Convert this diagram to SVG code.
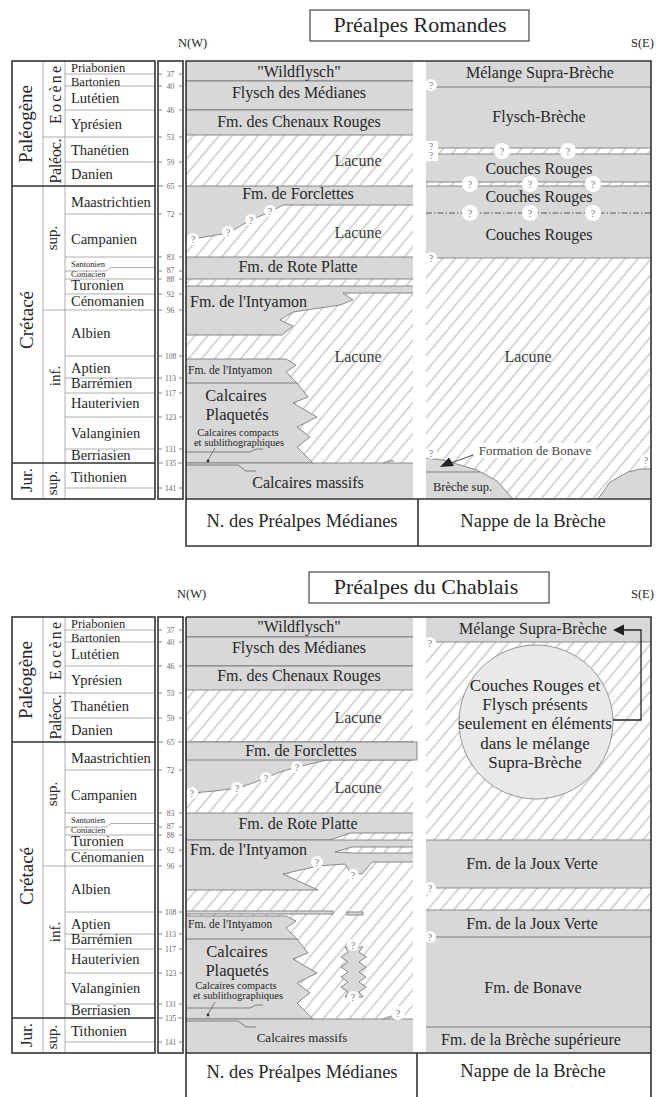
<svg xmlns="http://www.w3.org/2000/svg" width="658" height="1097" viewBox="0 0 658 1097">
<defs>
<pattern id="hatch" patternUnits="userSpaceOnUse" width="10" height="10" patternTransform="rotate(40)">
<rect width="10" height="10" fill="#fff"/>
<line x1="5" y1="-1" x2="5" y2="11" stroke="#8c8c8c" stroke-width="0.7"/>
</pattern>
<clipPath id="cm"><rect x="186" y="61" width="227" height="438"/></clipPath>
<clipPath id="cb"><rect x="426" y="61" width="225" height="438"/></clipPath>
<clipPath id="cm2"><rect x="186" y="61" width="227" height="436"/></clipPath>
<clipPath id="cb2"><rect x="426" y="61" width="225" height="436"/></clipPath>
<style>
.t{font-family:"Liberation Serif","Times New Roman",serif;fill:#262626}
.lab{font-size:16px;text-anchor:middle}
.lbl{font-size:18.5px;text-anchor:middle}
.st{font-size:14.5px}
.st2{font-size:12.5px}
.ss{font-size:8.5px}
.era{font-size:19px;text-anchor:middle}
.sub{font-size:16px;text-anchor:middle}
.age{font-size:7.5px;fill:#666;text-anchor:middle}
.lac{font-size:16px;text-anchor:middle;fill:#3c3c3c}
.title{font-size:22px;text-anchor:middle}
.dir{font-size:12.5px}
.sm{font-size:11.5px}
.cp{font-size:16.5px;text-anchor:middle}
.cc{font-size:10.5px;text-anchor:middle}
.g{fill:#d8d8d8;stroke:#707070;stroke-width:0.8}
.h{fill:url(#hatch)}
.frame{fill:none;stroke:#333;stroke-width:1.6}
.thin{fill:none;stroke:#9a9a9a;stroke-width:0.8}
.ln{fill:none;stroke:#666;stroke-width:0.8}
.qc{fill:#fff}
.q{font-size:10px;fill:#777;text-anchor:middle}
.box{fill:#fff;stroke:#444;stroke-width:1.2}
</style>
</defs>
<rect width="658" height="1097" fill="#fff"/>

<!-- ===================== PREALPES ROMANDES ===================== -->
<g id="romandes">
<g id="title-romandes"><rect class="box" x="310" y="10" width="219" height="31"/><text class="t title" x="420" y="32">Préalpes Romandes</text></g>
<text class="t dir" x="178" y="47">N(W)</text>
<text class="t dir" x="631" y="47">S(E)</text>

<g id="stages-romandes">
<path class="thin" d="M43 61V499M65 61V499M43 137H155M43 310H155M65 74H155M65 86H155M65 110H155M65 162H155M65 214H155M65 257H155M65 279H155M65 294H155M65 356H155M65 378H155M65 393H155M65 417H155M65 449H155M65 488H155M65 271H106L111 267.5H155"/>
<path class="frame" d="M12 186H155M12 463H155"/>
<rect class="frame" x="12" y="61" width="143" height="438"/>
<text class="t era" transform="translate(32,124) rotate(-90)">Paléogène</text>
<text class="t era" transform="translate(33,320) rotate(-90)">Crétacé</text>
<text class="t era" transform="translate(32,480) rotate(-90)" style="font-size:17px">Jur.</text>
<text class="t sub" transform="translate(61,95) rotate(-90)" textLength="58" lengthAdjust="spacing">Eocène</text>
<text class="t sub" transform="translate(61,161) rotate(-90)" textLength="45" lengthAdjust="spacing">Paléoc.</text>
<text class="t sub" transform="translate(57,238) rotate(-90)" style="font-size:15px">sup.</text>
<text class="t sub" transform="translate(60,376) rotate(-90)" style="font-size:15px">inf.</text>
<text class="t sub" transform="translate(57,483) rotate(-90)" style="font-size:15px">sup.</text>
<g class="t st2">
<text x="71" y="71.5">Priabonien</text>
<text x="71" y="85.5">Bartonien</text>
</g>
<g class="t st">
<text x="71" y="103">Lutétien</text>
<text x="71" y="129">Yprésien</text>
<text x="71" y="155">Thanétien</text>
<text x="71" y="179">Danien</text>
<text x="71" y="207">Maastrichtien</text>
<text x="71" y="244">Campanien</text>
<text x="71" y="290">Turonien</text>
<text x="71" y="306">Cénomanien</text>
<text x="71" y="338">Albien</text>
<text x="71" y="373">Aptien</text>
<text x="71" y="388">Barrémien</text>
<text x="71" y="408">Hauterivien</text>
<text x="71" y="438">Valanginien</text>
<text x="71" y="460">Berriasien</text>
<text x="71" y="482">Tithonien</text>
</g>
<text class="t ss" x="71" y="266.5">Santonien</text>
<text class="t ss" x="71" y="277">Coniacien</text>
</g>

<g id="ages-romandes">
<rect class="frame" x="158" y="61" width="25" height="438"/>
<path class="ln" d="M158 74h4M179 74h4M158 86h4M179 86h4M158 110h4M179 110h4M158 137h4M179 137h4M158 162h4M179 162h4M158 186h5M178 186h5M158 214h4M179 214h4M158 257h4M179 257h4M158 271h4M179 271h4M158 279h4M179 279h4M158 294h4M179 294h4M158 310h4M179 310h4M158 356h4M179 356h4M158 378h4M179 378h4M158 393h4M179 393h4M158 417h4M179 417h4M158 449h4M179 449h4M158 463h5M178 463h5M158 488h4M179 488h4"/>
<g class="t age">
<text x="170.5" y="76.6">37</text><text x="170.5" y="88.6">40</text><text x="170.5" y="112.6">46</text><text x="170.5" y="139.6">53</text><text x="170.5" y="164.6">59</text><text x="170.5" y="188.6">65</text><text x="170.5" y="216.6">72</text><text x="170.5" y="259.6">83</text><text x="170.5" y="272.6">87</text><text x="170.5" y="281.6">88</text><text x="170.5" y="296.6">92</text><text x="170.5" y="312.6">96</text><text x="170.5" y="358.6">108</text><text x="170.5" y="380.6">113</text><text x="170.5" y="395.6">117</text><text x="170.5" y="419.6">123</text><text x="170.5" y="451.6">131</text><text x="170.5" y="465.6">135</text><text x="170.5" y="490.6">141</text>
</g>
</g>

<g id="medianes-romandes">
<g clip-path="url(#cm)">
<rect class="h" x="186" y="61" width="227" height="438"/>
<rect class="g" x="180" y="55" width="240" height="26"/>
<rect class="g" x="180" y="81" width="240" height="29"/>
<rect class="g" x="180" y="110" width="240" height="25"/>
<path class="g" d="M180 186H420V205H283L270 212L251 220L228 233L193 239L180 241Z"/>
<rect class="g" x="180" y="257" width="240" height="22"/>
<path class="g" d="M180 286H420V293H343L353 300L340 305L293 312L280 320L293 326L282 335H180Z"/>
<path class="g" d="M180 359H286L296 365L286 372L297 383L308 397L293 403L317 417L297 427L310 437L297 447L313 463H180Z"/>
<rect class="g" x="180" y="463" width="240" height="42"/>
<path class="ln" d="M186 383H297M186 452H250L256 449H263M186 465H238L246 471H256M383 463L388 461H394"/>
<path class="ln" d="M215 448L208 460"/>
<circle cx="208" cy="461" r="1.4" fill="#333"/>
</g>
<text class="t lab" x="299" y="77">"Wildflysch"</text>
<text class="t lab" x="299" y="98">Flysch des Médianes</text>
<text class="t lab" x="299" y="127">Fm. des Chenaux Rouges</text>
<text class="t lac" x="358" y="166">Lacune</text>
<text class="t lab" x="298" y="199">Fm. de Forclettes</text>
<text class="t lac" x="358" y="238">Lacune</text>
<text class="t lab" x="298" y="272">Fm. de Rote Platte</text>
<text class="t lab" x="190" y="307" style="text-anchor:start">Fm. de l'Intyamon</text>
<text class="t lac" x="358" y="362">Lacune</text>
<text class="t sm" x="188" y="374">Fm. de l'Intyamon</text>
<text class="t cp" x="236" y="401">Calcaires</text>
<text class="t cp" x="237" y="420">Plaquetés</text>
<text class="t cc" x="238" y="436">Calcaires compacts</text>
<text class="t cc" x="239" y="446">et sublithographiques</text>
<text class="t lab" x="308" y="488">Calcaires massifs</text>
<g id="q-medianes-romandes">
<circle class="qc" cx="193" cy="239" r="6"/><text class="t q" x="193" y="242.5">?</text>
<circle class="qc" cx="228" cy="232" r="6"/><text class="t q" x="228" y="235.5">?</text>
<circle class="qc" cx="251" cy="220" r="6"/><text class="t q" x="251" y="223.5">?</text>
<circle class="qc" cx="270" cy="211" r="6"/><text class="t q" x="270" y="214.5">?</text>
</g>
</g>

<g id="breche-romandes">
<g clip-path="url(#cb)">
<rect class="h" x="426" y="61" width="225" height="438"/>
<rect class="g" x="420" y="55" width="240" height="93"/>
<path class="ln" d="M426 87H651"/>
<rect class="g" x="420" y="154" width="240" height="28"/>
<rect class="g" x="420" y="186" width="240" height="72"/>
<path d="M426 213H651" stroke="#555" stroke-width="1.2" stroke-dasharray="6 2 1.5 2" fill="none"/>
<path class="g" d="M418 458L426 458L443 460L477 470L497 481L513 499L516 506H418Z"/>
<path class="ln" d="M426 472H480"/>
<path class="g" d="M595 506L598 499L610 482L628 472L640 469H660V506Z"/>
</g>
<text class="t lab" x="540" y="78">Mélange Supra-Brèche</text>
<text class="t lab" x="539" y="122">Flysch-Brèche</text>
<text class="t lab" x="539" y="174">Couches Rouges</text>
<text class="t lab" x="539" y="202">Couches Rouges</text>
<text class="t lab" x="539" y="240">Couches Rouges</text>
<text class="t lac" x="528" y="362">Lacune</text>
<text class="t" x="433" y="491" style="font-size:12.5px">Brèche sup.</text>
<rect x="474" y="443" width="122" height="15" fill="#fff"/>
<text class="t" x="535" y="455" style="font-size:13px;text-anchor:middle;fill:#444">Formation de Bonave</text>
<path d="M473 455L451 463" stroke="#333" stroke-width="0.9" fill="none"/>
<polygon points="440,467 449,457.5 454,466" fill="#222"/>
<g id="q-breche-romandes">
<circle class="qc" cx="431" cy="85" r="6"/><text class="t q" x="431" y="88.5">?</text>
<rect class="qc" x="426" y="141" width="12" height="20"/><text class="t q" x="431" y="150">?</text><text class="t q" x="431" y="159">?</text>
<circle class="qc" cx="502" cy="151" r="8"/><text class="t q" x="502" y="154.5">?</text>
<circle class="qc" cx="568" cy="151" r="8"/><text class="t q" x="568" y="154.5">?</text>
<circle class="qc" cx="470" cy="184" r="8"/><text class="t q" x="470" y="187.5">?</text>
<circle class="qc" cx="530" cy="184" r="8"/><text class="t q" x="530" y="187.5">?</text>
<circle class="qc" cx="593" cy="184" r="8"/><text class="t q" x="593" y="187.5">?</text>
<circle class="qc" cx="470" cy="213" r="8"/><text class="t q" x="470" y="216.5">?</text>
<circle class="qc" cx="530" cy="213" r="8"/><text class="t q" x="530" y="216.5">?</text>
<circle class="qc" cx="593" cy="213" r="8"/><text class="t q" x="593" y="216.5">?</text>
<circle class="qc" cx="431" cy="258" r="6"/><text class="t q" x="431" y="261.5">?</text>
<circle class="qc" cx="431" cy="453" r="6"/><text class="t q" x="431" y="456.5">?</text>
<circle class="qc" cx="646" cy="460" r="6"/><text class="t q" x="646" y="463.5">?</text>
</g>
</g>

<g id="frame-romandes">
<path class="frame" d="M186 61H651V546H186ZM186 499H651M418 499V546"/>
<text class="t lbl" x="302" y="527">N. des Préalpes Médianes</text>
<text class="t lbl" x="533" y="527">Nappe de la Brèche</text>
</g>
</g>

<!-- ===================== PREALPES DU CHABLAIS ===================== -->
<g id="chablais" transform="translate(0,556)">
<g id="title-chablais"><rect class="box" x="309" y="16" width="240" height="31"/><text class="t title" x="426" y="38">Préalpes du Chablais</text></g>
<text class="t dir" x="177" y="42">N(W)</text>
<text class="t dir" x="631" y="42">S(E)</text>

<g id="stages-chablais">
<path class="thin" d="M43 61V497M65 61V497M43 137H155M43 310H155M65 74H155M65 86H155M65 110H155M65 162H155M65 214H155M65 257H155M65 279H155M65 294H155M65 356H155M65 378H155M65 393H155M65 417H155M65 448H155M65 486H155M65 271H106L111 267.5H155"/>
<path class="frame" d="M12 186H155M12 462H155"/>
<rect class="frame" x="12" y="61" width="143" height="436"/>
<text class="t era" transform="translate(32,124) rotate(-90)">Paléogène</text>
<text class="t era" transform="translate(33,320) rotate(-90)">Crétacé</text>
<text class="t era" transform="translate(32,479) rotate(-90)" style="font-size:17px">Jur.</text>
<text class="t sub" transform="translate(61,95) rotate(-90)" textLength="58" lengthAdjust="spacing">Eocène</text>
<text class="t sub" transform="translate(61,161) rotate(-90)" textLength="45" lengthAdjust="spacing">Paléoc.</text>
<text class="t sub" transform="translate(57,238) rotate(-90)" style="font-size:15px">sup.</text>
<text class="t sub" transform="translate(60,376) rotate(-90)" style="font-size:15px">inf.</text>
<text class="t sub" transform="translate(57,481) rotate(-90)" style="font-size:15px">sup.</text>
<g class="t st2">
<text x="71" y="71.5">Priabonien</text>
<text x="71" y="85.5">Bartonien</text>
</g>
<g class="t st">
<text x="71" y="103">Lutétien</text>
<text x="71" y="129">Yprésien</text>
<text x="71" y="155">Thanétien</text>
<text x="71" y="179">Danien</text>
<text x="71" y="207">Maastrichtien</text>
<text x="71" y="244">Campanien</text>
<text x="71" y="290">Turonien</text>
<text x="71" y="306">Cénomanien</text>
<text x="71" y="338">Albien</text>
<text x="71" y="373">Aptien</text>
<text x="71" y="388">Barrémien</text>
<text x="71" y="408">Hauterivien</text>
<text x="71" y="437">Valanginien</text>
<text x="71" y="459">Berriasien</text>
<text x="71" y="480">Tithonien</text>
</g>
<text class="t ss" x="71" y="266.5">Santonien</text>
<text class="t ss" x="71" y="277">Coniacien</text>
</g>

<g id="ages-chablais">
<rect class="frame" x="158" y="61" width="25" height="436"/>
<path class="ln" d="M158 74h4M179 74h4M158 86h4M179 86h4M158 110h4M179 110h4M158 137h4M179 137h4M158 162h4M179 162h4M158 186h5M178 186h5M158 214h4M179 214h4M158 257h4M179 257h4M158 271h4M179 271h4M158 279h4M179 279h4M158 294h4M179 294h4M158 310h4M179 310h4M158 356h4M179 356h4M158 378h4M179 378h4M158 393h4M179 393h4M158 417h4M179 417h4M158 448h4M179 448h4M158 462h5M178 462h5M158 486h4M179 486h4"/>
<g class="t age">
<text x="170.5" y="76.6">37</text><text x="170.5" y="88.6">40</text><text x="170.5" y="112.6">46</text><text x="170.5" y="139.6">53</text><text x="170.5" y="164.6">59</text><text x="170.5" y="188.6">65</text><text x="170.5" y="216.6">72</text><text x="170.5" y="259.6">83</text><text x="170.5" y="272.6">87</text><text x="170.5" y="281.6">88</text><text x="170.5" y="296.6">92</text><text x="170.5" y="312.6">96</text><text x="170.5" y="358.6">108</text><text x="170.5" y="380.6">113</text><text x="170.5" y="395.6">117</text><text x="170.5" y="419.6">123</text><text x="170.5" y="450.6">131</text><text x="170.5" y="464.6">135</text><text x="170.5" y="488.6">141</text>
</g>
</g>

<g id="medianes-chablais">
<g clip-path="url(#cm2)">
<rect class="h" x="186" y="61" width="227" height="436"/>
<rect class="g" x="180" y="55" width="240" height="26"/>
<rect class="g" x="180" y="81" width="240" height="29"/>
<rect class="g" x="180" y="110" width="240" height="24"/>
<path class="g" d="M180 186H420V204H327L310 208L297 211L280 216L266 222L250 228L237 232L215 235L192 237L180 238Z"/>
<path class="g" d="M180 257H420V277H350L330 284H180Z"/>
<path class="g" d="M180 284H420V306H372L362 318L350 316L345 308L318 310L283 318L318 334H180Z"/>
<path class="h" stroke="#707070" stroke-width="0.8" d="M335 296L352 291H420V297H352Z"/>
<rect class="g" x="180" y="355" width="153" height="3"/>
<rect class="g" x="347" y="356" width="16" height="3"/>
<path class="g" d="M180 360H286L296 365L286 372L297 383L308 397L293 403L317 417L297 427L310 437L297 447L313 463H180Z"/>
<path class="g" d="M345 391H363L359 396L366 401L359 406L366 411L359 416L366 421L359 426L366 431L359 436L363 441H345L348 436L341 431L348 426L341 421L348 416L341 411L348 406L341 401L348 396Z"/>
<rect class="g" x="180" y="463" width="240" height="42"/>
<path class="ln" d="M186 383H297M186 452H250L256 449H263M186 465H238L246 471H256M383 463L388 461H394"/>
<path class="ln" d="M215 446L208 458"/>
<circle cx="208" cy="459" r="1.4" fill="#333"/>
</g>
<rect class="g" x="186" y="186" width="231" height="18"/>
<text class="t lab" x="299" y="76">"Wildflysch"</text>
<text class="t lab" x="299" y="97">Flysch des Médianes</text>
<text class="t lab" x="299" y="125">Fm. des Chenaux Rouges</text>
<text class="t lac" x="358" y="167">Lacune</text>
<text class="t lab" x="301" y="200">Fm. de Forclettes</text>
<text class="t lac" x="358" y="237">Lacune</text>
<text class="t lab" x="298" y="273">Fm. de Rote Platte</text>
<text class="t lab" x="190" y="299" style="text-anchor:start">Fm. de l'Intyamon</text>
<text class="t sm" x="188" y="372">Fm. de l'Intyamon</text>
<text class="t cp" x="237" y="401">Calcaires</text>
<text class="t cp" x="237" y="420">Plaquetés</text>
<text class="t cc" x="236" y="433">Calcaires compacts</text>
<text class="t cc" x="238" y="443">et sublithographiques</text>
<text class="t lab" x="302" y="486" style="font-size:13px">Calcaires massifs</text>
<g id="q-medianes-chablais">
<circle class="qc" cx="192" cy="237" r="6"/><text class="t q" x="192" y="240.5">?</text>
<circle class="qc" cx="237" cy="232" r="6"/><text class="t q" x="237" y="235.5">?</text>
<circle class="qc" cx="266" cy="222" r="6"/><text class="t q" x="266" y="225.5">?</text>
<circle class="qc" cx="297" cy="211" r="6"/><text class="t q" x="297" y="214.5">?</text>
<circle class="qc" cx="317" cy="306" r="6"/><text class="t q" x="317" y="309.5">?</text>
<circle class="qc" cx="353" cy="319" r="6"/><text class="t q" x="353" y="322.5">?</text>
<circle class="qc" cx="353" cy="389" r="6"/><text class="t q" x="353" y="392.5">?</text>
<circle class="qc" cx="353" cy="441" r="6"/><text class="t q" x="353" y="444.5">?</text>
<circle class="qc" cx="398" cy="457" r="7"/><text class="t q" x="398" y="460.5">?</text>
</g>
</g>

<g id="breche-chablais">
<g clip-path="url(#cb2)">
<rect class="h" x="426" y="61" width="225" height="436"/>
<rect class="g" x="420" y="55" width="240" height="31"/>
<rect class="g" x="420" y="284" width="240" height="48"/>
<rect class="g" x="420" y="354" width="240" height="150"/>
<path class="ln" d="M426 381H651M426 471H651"/>
</g>
<text class="t lab" x="533" y="78">Mélange Supra-Brèche</text>
<text class="t lab" x="532" y="313">Fm. de la Joux Verte</text>
<text class="t lab" x="532" y="373">Fm. de la Joux Verte</text>
<text class="t lab" x="533" y="437">Fm. de Bonave</text>
<text class="t lab" x="531" y="489">Fm. de la Brèche supérieure</text>
<g id="note-chablais">
<circle cx="536" cy="166" r="77" fill="#e9e9e9" stroke="#8a8a8a" stroke-width="0.9"/>
<g class="t" style="font-size:17px;text-anchor:middle">
<text x="535" y="135">Couches Rouges et</text>
<text x="535" y="154">Flysch présents</text>
<text x="535" y="173">seulement en éléments</text>
<text x="535" y="193">dans le mélange</text>
<text x="535" y="212">Supra-Brèche</text>
</g>
</g>
<g id="arrow-chablais">
<path d="M613 164H641V74H622" stroke="#222" stroke-width="1.3" fill="none"/>
<polygon points="613,74 624,68.5 624,79.5" fill="#222"/>
</g>
<g id="q-breche-chablais">
<circle class="qc" cx="430" cy="87" r="6"/><text class="t q" x="430" y="90.5">?</text>
<circle class="qc" cx="430" cy="332" r="6"/><text class="t q" x="430" y="335.5">?</text>
<circle class="qc" cx="430" cy="381" r="6"/><text class="t q" x="430" y="384.5">?</text>
</g>
</g>

<g id="frame-chablais">
<path class="frame" d="M186 61H651V560M186 61V560M186 497H651M417 497V560"/>
<text class="t lbl" x="302" y="522">N. des Préalpes Médianes</text>
<text class="t lbl" x="533" y="521">Nappe de la Brèche</text>
</g>
</g>
</svg>
